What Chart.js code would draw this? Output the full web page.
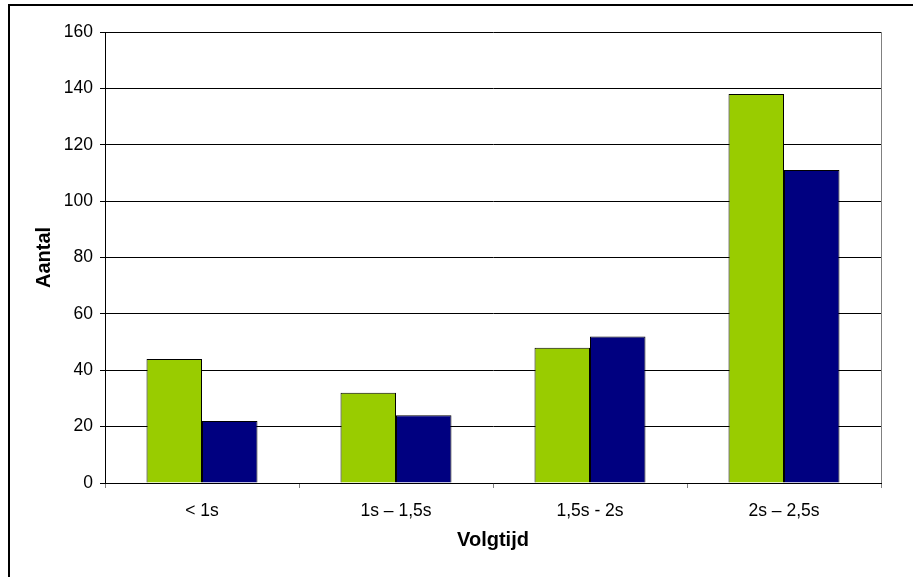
<!DOCTYPE html>
<html>
<head>
<meta charset="utf-8">
<script src="https://cdn.jsdelivr.net/npm/chart.js@4/dist/chart.umd.min.js"></script>
<style>
  html, body { margin: 0; padding: 0; background: #fff; }
  #wrap { width: 913px; height: 577px; }
</style>
</head>
<body>
<div id="wrap"><canvas id="c" width="913" height="577"></canvas></div>
<script>
// Headway-time classes and counts per series
const categories = ['< 1s', '1s \u2013 1,5s', '1,5s - 2s', '2s \u2013 2,5s'];
const seriesGreen = [44, 32, 48, 138];
const seriesNavy = [22, 24, 52, 111];
const yTicks = [0, 20, 40, 60, 80, 100, 120, 140, 160];

const FONT = 'Arial, "Liberation Sans", sans-serif';

// Frame around the whole figure plus the grey right edge of the plot area
const framePlugin = {
  id: 'frame',
  afterDraw(chart) {
    const ctx = chart.ctx;
    const a = chart.chartArea;
    ctx.save();
    ctx.strokeStyle = '#000';
    ctx.lineWidth = 2;
    ctx.beginPath();
    ctx.moveTo(8, 5);
    ctx.lineTo(913, 5);
    ctx.moveTo(9, 4);
    ctx.lineTo(9, 577);
    ctx.stroke();
    ctx.strokeStyle = '#808080';
    ctx.lineWidth = 1;
    ctx.beginPath();
    ctx.moveTo(Math.round(a.right) + 0.5, a.top);
    ctx.lineTo(Math.round(a.right) + 0.5, a.bottom);
    ctx.stroke();
    ctx.restore();
  }
};

new Chart(document.getElementById('c'), {
  type: 'bar',
  data: {
    labels: categories,
    datasets: [
      { data: seriesGreen, backgroundColor: '#99cc00', borderColor: '#000', borderWidth: 1 },
      { data: seriesNavy, backgroundColor: '#000080', borderColor: '#000', borderWidth: 1 }
    ]
  },
  options: {
    responsive: false,
    devicePixelRatio: 1,
    animation: false,
    layout: { padding: { left: 0, top: 32, right: 32, bottom: 0 } },
    datasets: { bar: { categoryPercentage: 0.572, barPercentage: 1 } },
    plugins: { legend: { display: false }, tooltip: { enabled: false } },
    scales: {
      x: {
        afterFit(scale) { scale.height = 94; },
        grid: { display: true, drawOnChartArea: false, drawTicks: true, tickLength: 5, color: '#808080', offset: true },
        border: { display: true, color: '#000', width: 1 },
        ticks: { color: '#000', font: { family: FONT, size: 17.5 }, padding: 13, maxRotation: 0 },
        title: { display: true, text: 'Volgtijd', color: '#000', font: { family: FONT, size: 20, weight: 'bold' }, padding: { top: 0, bottom: 25 } }
      },
      y: {
        min: 0,
        max: 160,
        afterFit(scale) { scale.width = 105; },
        afterBuildTicks(scale) { scale.ticks = yTicks.map(v => ({ value: v })); },
        grid: { color: '#000', lineWidth: 1, tickLength: 5, drawTicks: true },
        border: { display: true, color: '#000', width: 1 },
        ticks: { color: '#000', font: { family: FONT, size: 17.5 }, padding: 7 },
        title: { display: true, text: 'Aantal', color: '#000', font: { family: FONT, size: 20, weight: 'bold' }, padding: { top: 32.5, bottom: 0 } }
      }
    }
  },
  plugins: [framePlugin]
});
</script>
</body>
</html>
